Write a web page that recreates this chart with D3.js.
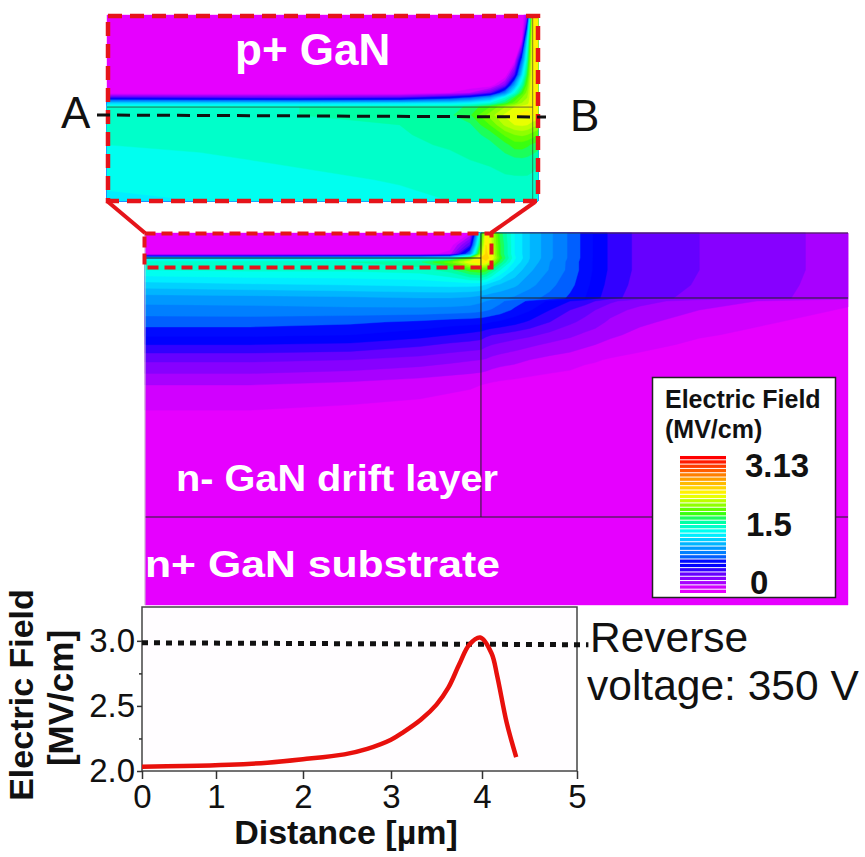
<!DOCTYPE html>
<html>
<head>
<meta charset="utf-8">
<script src="https://cdn.jsdelivr.net/npm/d3@7"></script>
<style>
  html, body { margin: 0; background: #fff; }
  svg { display: block; font-family: "Liberation Sans", Arial, sans-serif; }
</style>
</head>
<body>
<div id="container"></div>
<script>
// line profile along A-B
var profileX = [0, 0.56, 1.15, 1.59, 2, 2.47, 2.73, 3, 3.14, 3.33, 3.5, 3.63, 3.75, 3.86, 3.98, 4.1, 4.16, 4.26, 4.36];
var profileE = [2.033, 2.038, 2.048, 2.064, 2.09, 2.128, 2.17, 2.24, 2.3, 2.395, 2.51, 2.64, 2.82, 2.97, 3.025, 2.905, 2.73, 2.37, 2.107];
var limitX = [0, 5.12];
var limitE = [2.985, 2.97];
var xTicks = [0, 1, 2, 3, 4, 5];
var yTicks = [2, 2.5, 3];
var yMinorTicks = [2.25, 2.75];

// device cross section, field in MV/cm
var mainX = [0, 1.25, 2.44, 3.27, 3.63, 3.87, 4, 4.06, 4.13, 4.23, 4.4, 4.58, 4.82, 5.06, 5.24, 5.36, 5.54, 5.89, 6.6, 7.56, 8.37];
var mainDepth = [0, 0.143, 0.25, 0.298, 0.345, 0.44, 0.62, 0.774, 0.81, 0.917, 1.06, 1.214, 1.33, 1.51, 1.81, 2.35, 4.43];
var mainField = [
  [0, 0, 0, 0, 0, 0.1, 1.6, 2.35, 2.15, 1.75, 1.4, 1.2, 1.02, 0.88, 0.76, 0.68, 0.58, 0.47, 0.4, 0.33, 0.25],
  [0, 0, 0, 0, 0.02, 0.5, 1.9, 2.4, 2.2, 1.8, 1.4, 1.2, 1.02, 0.88, 0.76, 0.68, 0.58, 0.47, 0.4, 0.33, 0.25],
  [0, 0, 0, 0.02, 0.15, 1, 2.1, 2.45, 2.25, 1.8, 1.4, 1.2, 1.02, 0.88, 0.76, 0.68, 0.58, 0.47, 0.4, 0.33, 0.25],
  [1.2, 1.2, 1.25, 1.3, 1.45, 1.9, 2.4, 2.5, 2.3, 1.85, 1.42, 1.2, 1.02, 0.88, 0.76, 0.68, 0.58, 0.47, 0.4, 0.33, 0.25],
  [1.58, 1.58, 1.6, 1.68, 1.95, 2.3, 2.4, 2.35, 2.1, 1.75, 1.38, 1.18, 1, 0.87, 0.75, 0.68, 0.58, 0.47, 0.4, 0.33, 0.25],
  [1.5, 1.52, 1.52, 1.55, 1.65, 1.85, 1.9, 1.85, 1.7, 1.5, 1.28, 1.12, 0.99, 0.87, 0.75, 0.68, 0.58, 0.47, 0.4, 0.33, 0.25],
  [1.25, 1.28, 1.3, 1.32, 1.33, 1.33, 1.32, 1.28, 1.22, 1.18, 1.12, 1.03, 0.93, 0.83, 0.73, 0.66, 0.56, 0.46, 0.39, 0.32, 0.25],
  [1.05, 1.06, 1.08, 1.1, 1.1, 1.08, 1.05, 1.04, 1.03, 1.02, 0.98, 0.93, 0.87, 0.78, 0.7, 0.63, 0.54, 0.44, 0.37, 0.31, 0.25],
  [1.03, 1.04, 1.06, 1.07, 1.07, 1.05, 1.02, 1, 0.97, 0.92, 0.85, 0.78, 0.68, 0.6, 0.55, 0.5, 0.42, 0.34, 0.25, 0.18, 0.12],
  [0.95, 0.96, 0.97, 0.97, 0.96, 0.95, 0.93, 0.91, 0.89, 0.86, 0.78, 0.71, 0.6, 0.5, 0.44, 0.4, 0.34, 0.27, 0.2, 0.14, 0.09],
  [0.85, 0.85, 0.82, 0.78, 0.75, 0.74, 0.73, 0.72, 0.7, 0.68, 0.64, 0.58, 0.5, 0.42, 0.37, 0.34, 0.28, 0.22, 0.15, 0.1, 0.06],
  [0.72, 0.72, 0.7, 0.64, 0.6, 0.57, 0.55, 0.52, 0.5, 0.48, 0.45, 0.42, 0.37, 0.32, 0.28, 0.26, 0.22, 0.17, 0.11, 0.07, 0.04],
  [0.6, 0.6, 0.58, 0.52, 0.48, 0.46, 0.45, 0.42, 0.4, 0.38, 0.35, 0.32, 0.28, 0.25, 0.22, 0.2, 0.17, 0.13, 0.08, 0.05, 0.03],
  [0.42, 0.42, 0.4, 0.36, 0.33, 0.31, 0.3, 0.29, 0.27, 0.25, 0.23, 0.2, 0.17, 0.15, 0.12, 0.11, 0.09, 0.07, 0.04, 0.02, 0.01],
  [0.2, 0.2, 0.17, 0.14, 0.12, 0.11, 0.1, 0.09, 0.08, 0.07, 0.06, 0.05, 0.04, 0.03, 0.02, 0.02, 0.01, 0.01, 0, 0, 0],
  [0.02, 0.02, 0.01, 0.01, 0.01, 0.01, 0, 0, 0, 0, 0, 0, 0, 0, 0, 0, 0, 0, 0, 0, 0],
  [0, 0, 0, 0, 0, 0, 0, 0, 0, 0, 0, 0, 0, 0, 0, 0, 0, 0, 0, 0, 0]
];

// magnified corner
var insetX = [0, 0.87, 1.81, 2.75, 3.22, 3.41, 3.6, 3.74, 3.83, 3.9, 3.95, 4, 4.05];
var insetDepth = [0, 0.08, 0.147, 0.195, 0.228, 0.254, 0.27, 0.287, 0.3, 0.326, 0.358, 0.39, 0.423, 0.472, 0.537, 0.606];
var insetField = [
  [0, 0, 0, 0, 0, 0, 0, 0, 0, 0, 0.3, 2.3, 2.4],
  [0, 0, 0, 0, 0, 0, 0, 0, 0, 0.1, 1.3, 2.35, 2.4],
  [0, 0, 0, 0, 0, 0, 0, 0, 0.05, 0.9, 1.6, 2.35, 2.4],
  [0, 0, 0, 0, 0, 0, 0, 0, 0.5, 1.3, 1.8, 2.35, 2.4],
  [0, 0, 0, 0, 0, 0, 0, 0.35, 1.1, 1.6, 1.95, 2.35, 2.4],
  [0, 0, 0, 0, 0.1, 0.2, 0.45, 1, 1.5, 1.85, 2.05, 2.35, 2.4],
  [0.55, 0.5, 0.45, 0.5, 0.7, 0.85, 1.1, 1.5, 1.8, 2, 2.1, 2.35, 2.4],
  [1.25, 1.25, 1.25, 1.28, 1.32, 1.38, 1.5, 1.75, 1.95, 2.1, 2.15, 2.35, 2.4],
  [1.58, 1.58, 1.6, 1.62, 1.66, 1.72, 1.9, 2.1, 2.2, 2.25, 2.28, 2.35, 2.35],
  [1.58, 1.59, 1.6, 1.62, 1.68, 1.78, 2.05, 2.22, 2.3, 2.32, 2.32, 2.3, 2.3],
  [1.56, 1.57, 1.58, 1.6, 1.64, 1.68, 1.9, 2.12, 2.2, 2.22, 2.2, 2.15, 2.1],
  [1.53, 1.55, 1.57, 1.59, 1.63, 1.65, 1.74, 1.92, 2, 2.02, 2, 1.95, 1.9],
  [1.5, 1.52, 1.55, 1.58, 1.61, 1.63, 1.67, 1.76, 1.85, 1.85, 1.82, 1.78, 1.75],
  [1.46, 1.48, 1.52, 1.55, 1.58, 1.6, 1.62, 1.65, 1.67, 1.68, 1.67, 1.65, 1.62],
  [1.42, 1.44, 1.47, 1.51, 1.54, 1.55, 1.56, 1.58, 1.58, 1.58, 1.58, 1.57, 1.55],
  [1.38, 1.4, 1.43, 1.47, 1.5, 1.51, 1.52, 1.52, 1.52, 1.52, 1.52, 1.5, 1.48]
];

var fieldStops = [0, 0.1, 0.25, 0.5, 0.62, 0.74, 0.86, 1.05, 1.41, 1.66, 1.87, 2.3, 2.7, 3.13];
var fieldColors = ["#e600ff", "#e600ff", "#a800ff", "#5500ff", "#0000ff", "#0000ff", "#0068ff", "#0098ff", "#00ffff", "#00ffa0", "#40ff00", "#ffff00", "#ff9000", "#ff0000"];
var legendLabels = [3.13, 1.5, 0];
var fieldMax = 3.13;
var bandSize = 0.1;

var color = d3.scaleLinear().domain(fieldStops).range(fieldColors).clamp(true);
var bands = d3.range(0, fieldMax, bandSize);

var svg = d3.select("#container").append("svg")
  .attr("width", 865)
  .attr("height", 857);

// draws the banded field through d3.contours, grid lines need not be evenly spaced
function drawField(xs, ys, rows, xRange, yRange) {
  var n = xs.length, m = ys.length;
  var xPx = d3.scaleLinear().domain([0, d3.max(xs)]).range(xRange);
  var yPx = d3.scaleLinear().domain([0, d3.max(ys)]).range(yRange);
  var colToPx = d3.scaleLinear().domain(d3.range(n)).range(xs.map(xPx)).clamp(true);
  var rowToPx = d3.scaleLinear().domain(d3.range(m)).range(ys.map(yPx)).clamp(true);

  var contours = d3.contours().size([n, m]).thresholds(bands)(d3.merge(rows));
  var path = d3.geoPath(d3.geoTransform({
    point: function(x, y) { this.stream.point(colToPx(x - 0.5), rowToPx(y - 0.5)); }
  }));

  svg.append("g").selectAll("path")
    .data(contours)
    .enter().append("path")
      .attr("d", path)
      .attr("fill", function(d) { return color(d.value + bandSize / 2); })
      .attr("stroke", function(d) { return color(d.value + bandSize / 2); })
      .attr("stroke-width", 0.4);
  return { x: xPx, y: yPx };
}

function segment(x1, y1, x2, y2, stroke, width, dash) {
  return svg.append("line")
    .attr("x1", x1).attr("y1", y1).attr("x2", x2).attr("y2", y2)
    .attr("stroke", stroke)
    .attr("stroke-width", width)
    .attr("stroke-dasharray", dash || null);
}

function label(str, x, y, size, weight, fill, anchor) {
  return svg.append("text")
    .attr("x", x).attr("y", y)
    .attr("font-size", size)
    .attr("font-weight", weight || "normal")
    .attr("fill", fill || "#111")
    .attr("text-anchor", anchor || "start")
    .text(str);
}

// main cross section
var main = drawField(mainX, mainDepth, mainField, [145, 848], [233, 605]);
segment(main.x(4), 233, main.x(4), 517, "#222", 1);
segment(145, 517, 848, 517, "#222", 1);
segment(main.x(4), main.y(0.774), 848, main.y(0.774), "#222", 1);
segment(145, main.y(0.298), main.x(4), main.y(0.298), "#222", 1);
segment(main.x(4), 233, 848, 233, "#333", 1);
segment(145, 233, 145, 605, "#ccc", 1);

// magnified inset
var inset = drawField(insetX, insetDepth, insetField, [107, 538], [15, 201]);
segment(107, inset.y(0.3), inset.x(4), inset.y(0.3), "#333", 1).attr("opacity", 0.7);
segment(inset.x(4), 15, inset.x(4), 201, "#333", 1).attr("opacity", 0.6);

// red call-out
svg.append("rect")
  .attr("x", 108).attr("y", 16).attr("width", 430).attr("height", 185)
  .attr("fill", "none").attr("stroke", "#e5141a").attr("stroke-width", 4.5)
  .attr("stroke-dasharray", "14 8");
svg.append("rect")
  .attr("x", 144.5).attr("y", 233.5).attr("width", 347).attr("height", 34)
  .attr("fill", "none").attr("stroke", "#e5141a").attr("stroke-width", 4)
  .attr("stroke-dasharray", "11 6");
segment(107, 201, 145, 233, "#e5141a", 4);
segment(535, 202, 491, 233, "#e5141a", 4);
segment(97, 115, 546, 117, "#111", 3, "13 7");

label("A", 61, 128, 44);
label("B", 570, 131, 44);
label("p+ GaN", 235, 65, 44, "bold", "#fff");
label("n- GaN drift layer", 176, 491, 36, "bold", "#fff")
  .attr("textLength", 322).attr("lengthAdjust", "spacingAndGlyphs");
label("n+ GaN substrate", 145, 577, 36, "bold", "#fff")
  .attr("textLength", 355).attr("lengthAdjust", "spacingAndGlyphs");

// legend
svg.append("rect")
  .attr("x", 652.5).attr("y", 377.5).attr("width", 183).attr("height", 220)
  .attr("fill", "#fff").attr("stroke", "#222").attr("stroke-width", 1.5);
label("Electric Field", 665, 408, 25, "bold");
label("(MV/cm)", 665, 438, 25, "bold");

var legendY = d3.scaleLinear().domain([0, fieldMax]).range([594, 459]);
svg.append("g").selectAll("rect")
  .data(bands)
  .enter().append("rect")
    .attr("x", 680)
    .attr("width", 46)
    .attr("y", function(d) { return legendY(d + bandSize) ; })
    .attr("height", function(d) { return legendY(d) - legendY(d + bandSize) - 1; })
    .attr("fill", function(d) { return color(d + bandSize / 2); });
svg.append("g").selectAll("text")
  .data(legendLabels)
  .enter().append("text")
    .attr("x", function(d) { return d === 0 ? 750 : (d === 1.5 ? 746 : 745); })
    .attr("y", function(d, i) { return [477, 536, 594][i]; })
    .attr("font-size", 33)
    .attr("font-weight", "bold")
    .attr("fill", "#111")
    .text(function(d) { return d; });

// line profile
var x = d3.scaleLinear().domain(xTicks).range([142, 216, 303, 391, 482, 577]);
var y = d3.scaleLinear().domain([2, 3.26]).range([771, 607]);

svg.append("rect")
  .attr("x", x(0)).attr("y", y(3.26))
  .attr("width", x(5) - x(0)).attr("height", y(2) - y(3.26))
  .attr("fill", "#fffdff").attr("stroke", "#444").attr("stroke-width", 1.5);

var xAxis = svg.append("g")
  .attr("transform", "translate(0," + y(2) + ")")
  .call(d3.axisBottom(x).tickValues(xTicks).tickFormat(d3.format("d")).tickSize(8).tickPadding(6));
var yAxis = svg.append("g")
  .attr("transform", "translate(" + x(0) + ",0)")
  .call(d3.axisLeft(y).tickValues(yTicks).tickFormat(d3.format(".1f")).tickSize(5).tickPadding(2));
svg.append("g")
  .attr("transform", "translate(" + x(0) + ",0)")
  .call(d3.axisLeft(y).tickValues(yMinorTicks).tickFormat("").tickSize(3))
  .select(".domain").remove();
svg.selectAll(".tick text").attr("font-family", null).attr("font-size", 33).attr("fill", "#111");
xAxis.select(".domain").remove();
yAxis.select(".domain").remove();
svg.selectAll(".tick line").attr("stroke", "#333").attr("stroke-width", 1.5);

var line = d3.line()
  .x(function(d) { return x(d[0]); })
  .y(function(d) { return y(d[1]); });

svg.append("path")
  .attr("d", line(d3.zip(limitX, limitE)))
  .attr("fill", "none").attr("stroke", "#111").attr("stroke-width", 5)
  .attr("stroke-dasharray", "6 6");
svg.append("path")
  .attr("d", line.curve(d3.curveCatmullRom)(d3.zip(profileX, profileE)))
  .attr("fill", "none").attr("stroke", "#e8100c").attr("stroke-width", 4.5)
  .attr("stroke-linejoin", "round");

label("Distance [µm]", 346, 844, 34, "bold", "#111", "middle");
label("Electric Field", 0, 0, 34, "bold", "#111", "middle")
  .attr("transform", "translate(33,695) rotate(-90)").attr("x", 0).attr("y", 0);
label("[MV/cm]", 0, 0, 35, "bold", "#111", "middle")
  .attr("transform", "translate(73,698) rotate(-90)").attr("x", 0).attr("y", 0);

label("Reverse", 590, 652, 42.5);
label("voltage: 350 V", 587, 700, 42.5);
</script>
</body>
</html>
